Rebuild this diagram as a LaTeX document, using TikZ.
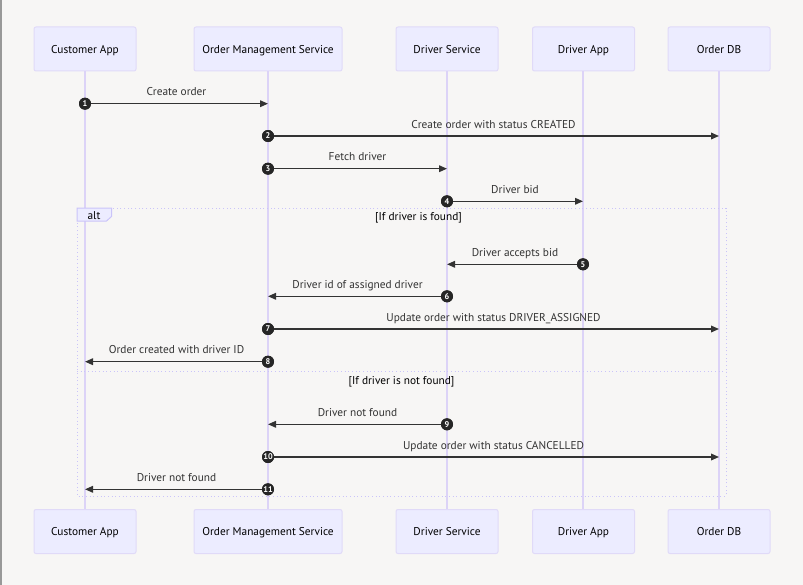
\documentclass[tikz,border=0pt]{standalone}
\usepackage{fontspec}
\setmainfont{PT Sans}
\usetikzlibrary{arrows.meta}
\definecolor{bg}{HTML}{F7F6F5}
\definecolor{actfill}{HTML}{ECECFF}
\definecolor{actdraw}{HTML}{E0DAF8}
\definecolor{life}{HTML}{DCD3F7}
\definecolor{msgc}{HTML}{333333}
\definecolor{txt}{HTML}{333333}
\tikzset{
  x=0.75pt, y=-0.75pt,
  actor/.style={draw=actdraw, fill=actfill, line width=0.75pt, rounded corners=1.5pt,
    minimum height=33pt, inner sep=0pt, font=\fontsize{8.5}{10}\selectfont, text=black,
    text height=6.1pt, text depth=0pt},
  lifeline/.style={draw=life, line width=1.1pt},
  msg/.style={draw=msgc, line width=1pt, -{Triangle[length=6pt,width=5pt]}},
  num/.style={circle, fill=black!85, text=white, inner sep=0pt, minimum size=9pt,
    font=\fontsize{6.2}{7}\selectfont\bfseries},
  mlabel/.style={font=\fontsize{8.5}{10}\selectfont, text=txt, inner sep=0pt,
    text height=6.1pt, text depth=0pt},
  altbox/.style={draw=actdraw!90!blue, dotted, line width=0.75pt},
}
\begin{document}
\begin{tikzpicture}
\fill[bg] (0,0) rectangle (803,585);
\useasboundingbox (0,0) rectangle (803,585);
\fill[gray!80] (0,0) rectangle (2,585);
% actors top
\node[actor, minimum width=76.5pt] (ca) at (85,49) {Customer App};
\node[actor, minimum width=111pt] (oms) at (268,49) {Order Management Service};
\node[actor, minimum width=76.5pt] (ds) at (447,49) {Driver Service};
\node[actor, minimum width=76.5pt] (da) at (583.5,49) {Driver App};
\node[actor, minimum width=76.5pt] (db) at (719,49) {Order DB};
% actors bottom
\node[actor, minimum width=76.5pt] (ca2) at (85,531.5) {Customer App};
\node[actor, minimum width=111pt] (oms2) at (268,531.5) {Order Management Service};
\node[actor, minimum width=76.5pt] (ds2) at (447,531.5) {Driver Service};
\node[actor, minimum width=76.5pt] (da2) at (583.5,531.5) {Driver App};
\node[actor, minimum width=76.5pt] (db2) at (719,531.5) {Order DB};
% lifelines
\draw[lifeline] (ca.south) -- (ca2.north);
\draw[lifeline] (oms.south) -- (oms2.north);
\draw[lifeline] (ds.south) -- (ds2.north);
\draw[lifeline] ([xshift=-0.3pt]da.south) -- ([xshift=-0.3pt]da2.north);
\draw[lifeline] (db.south) -- (db2.north);
% alt frame
\draw[altbox] (77,208) rectangle (726,496);
\draw[altbox] (77,371.3) -- (726,371.3);
\draw[draw=actdraw!90!blue, fill=actfill, line width=0.75pt] (77,208) -- (111.5,208) -- (111.5,216.5) -- (106.5,221) -- (77,221) -- cycle;
\node[mlabel, text=black] (altlbl) at (94,215) {alt};
\node[mlabel, text=black] (g1) at (418.5,216) {[If driver is found]};
\node[mlabel, text=black] (g2) at (401.5,380) {[If driver is not found]};
% message targets
\coordinate (t1) at (268,103.7);
\coordinate (t2) at (719,136);
\coordinate (t3) at (447,168.7);
\coordinate (t4) at (583,201.3);
\coordinate (t5) at (447,264.3);
\coordinate (t6) at (268,296.3);
\coordinate (t7) at (719,329);
\coordinate (t8) at (85,361.7);
\coordinate (t9) at (268,424.3);
\coordinate (t10) at (719,457);
\coordinate (t11) at (85,489.3);
% number nodes (sources)
\node[num] (n1) at (85,103.7) {1};
\node[num] (n2) at (268,136) {2};
\node[num] (n3) at (268,168.7) {3};
\node[num] (n4) at (447,201.3) {4};
\node[num] (n5) at (583,264.3) {5};
\node[num] (n6) at (447,296.3) {6};
\node[num] (n7) at (268,329) {7};
\node[num] (n8) at (268,361.7) {8};
\node[num] (n9) at (447,424.3) {9};
\node[num] (n10) at (268,457) {10};
\node[num] (n11) at (268,489.3) {11};
% messages
\foreach \i in {1,...,11} {
  \draw[msg] (n\i.center) -- (t\i);
  \node[num] at (n\i) {\i};
}
% labels
\node[mlabel] (l1) at (176.5,91) {Create order};
\node[mlabel] (l2) at (493.5,124) {Create order with status CREATED};
\node[mlabel] (l3) at (357.5,156.5) {Fetch driver};
\node[mlabel] (l4) at (515,189) {Driver bid};
\node[mlabel] (l5) at (515,252) {Driver accepts bid};
\node[mlabel] (l6) at (357.5,284) {Driver id of assigned driver};
\node[mlabel] (l7) at (493.5,317) {Update order with status DRIVER\_ASSIGNED};
\node[mlabel] (l8) at (176.5,349.5) {Order created with driver ID};
\node[mlabel] (l9) at (357.5,412.5) {Driver not found};
\node[mlabel] (l10) at (493.5,445) {Update order with status CANCELLED};
\node[mlabel] (l11) at (176.5,477.5) {Driver not found};
\end{tikzpicture}
\end{document}
